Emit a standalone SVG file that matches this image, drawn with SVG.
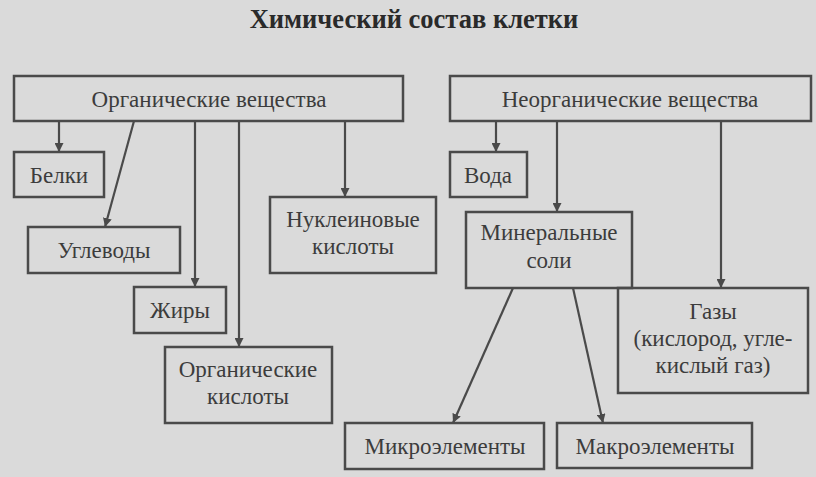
<svg xmlns="http://www.w3.org/2000/svg" width="816" height="477" viewBox="0 0 816 477">
<defs>
<marker id="ah" viewBox="0 0 10 10" refX="10" refY="5" markerWidth="9" markerHeight="9" markerUnits="userSpaceOnUse" orient="auto">
<path d="M0,0 L10,5 L0,10 z" fill="#4a4a4a"/>
</marker>
</defs>
<style>
.box{fill:none;stroke:#4a4a4a;stroke-width:2.5}
.t{font-family:"Liberation Serif","Times New Roman",serif;font-size:23px;fill:#3c3c3c;text-anchor:middle}
.title{font-family:"Liberation Serif","Times New Roman",serif;font-size:26.5px;font-weight:bold;fill:#2a2a2a;text-anchor:middle}
.c{stroke:#4a4a4a;stroke-width:2.2;fill:none}
</style>
<rect x="0" y="0" width="816" height="477" fill="#dadada"/>
<text class="title" x="414" y="28">Химический состав клетки</text>
<g id="connectors">
<line class="c" x1="59" y1="121" x2="59" y2="152" marker-end="url(#ah)"/>
<line class="c" x1="134" y1="121" x2="105" y2="227" marker-end="url(#ah)"/>
<line class="c" x1="195" y1="121" x2="195" y2="287" marker-end="url(#ah)"/>
<line class="c" x1="239" y1="121" x2="239" y2="347" marker-end="url(#ah)"/>
<line class="c" x1="345" y1="121" x2="345" y2="197" marker-end="url(#ah)"/>
<line class="c" x1="496" y1="121" x2="496" y2="152" marker-end="url(#ah)"/>
<line class="c" x1="557" y1="121" x2="557" y2="212" marker-end="url(#ah)"/>
<line class="c" x1="721" y1="121" x2="721" y2="288" marker-end="url(#ah)"/>
<line class="c" x1="513" y1="288" x2="453" y2="423" marker-end="url(#ah)"/>
<line class="c" x1="573" y1="288" x2="603" y2="423" marker-end="url(#ah)"/>
</g>
<g id="organic"><rect class="box" x="14" y="76" width="389" height="45"/><text class="t" x="209" y="107">Органические вещества</text></g>
<g id="inorganic"><rect class="box" x="450" y="76" width="361" height="45"/><text class="t" x="630" y="107">Неорганические вещества</text></g>
<g id="belki"><rect class="box" x="14" y="152" width="90" height="45"/><text class="t" x="59" y="183">Белки</text></g>
<g id="uglevody"><rect class="box" x="28" y="227" width="152" height="46"/><text class="t" x="104" y="258">Углеводы</text></g>
<g id="zhiry"><rect class="box" x="134" y="287" width="92" height="46"/><text class="t" x="180" y="318">Жиры</text></g>
<g id="org-kisloty"><rect class="box" x="165" y="347" width="167" height="76"/><text class="t" x="248" y="377">Органические</text><text class="t" x="248" y="404">кислоты</text></g>
<g id="nuklein"><rect class="box" x="270" y="197" width="166" height="76"/><text class="t" x="353" y="227">Нуклеиновые</text><text class="t" x="353" y="254">кислоты</text></g>
<g id="voda"><rect class="box" x="450" y="152" width="77" height="45"/><text class="t" x="488" y="183">Вода</text></g>
<g id="mineral"><rect class="box" x="466" y="212" width="166" height="76"/><text class="t" x="549" y="240">Минеральные</text><text class="t" x="549" y="268">соли</text></g>
<g id="gazy"><rect class="box" x="618" y="288" width="190" height="105"/><text class="t" x="713" y="319">Газы</text><text class="t" x="713" y="346">(кислород, угле-</text><text class="t" x="713" y="373">кислый газ)</text></g>
<g id="mikro"><rect class="box" x="345" y="423" width="199" height="46"/><text class="t" x="445" y="454">Микроэлементы</text></g>
<g id="makro"><rect class="box" x="557" y="423" width="195" height="45"/><text class="t" x="655" y="454">Макроэлементы</text></g>
</svg>
